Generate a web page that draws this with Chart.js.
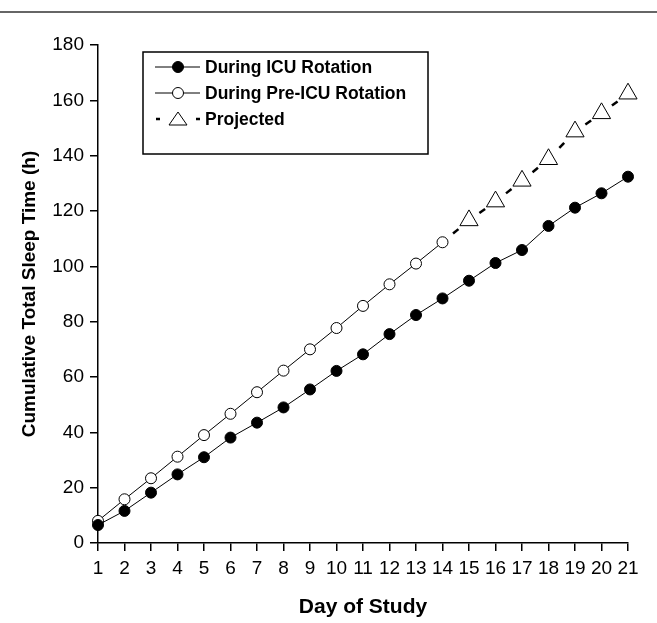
<!DOCTYPE html>
<html>
<head>
<meta charset="utf-8">
<script src="https://cdn.jsdelivr.net/npm/chart.js@4/dist/chart.umd.min.js"></script>
<style>
  html, body { margin: 0; padding: 0; background: #fff; }
  #wrap { position: relative; width: 657px; height: 623px; }
  #topline { position: absolute; left: 0; top: 11px; width: 657px; height: 2px; background: #666; }
  #chart { position: absolute; left: 0; top: 0; }
</style>
</head>
<body>
<div id="wrap">
  <canvas id="chart" width="657" height="623"></canvas>
  <div id="topline"></div>
</div>
<script>
const days = ['1','2','3','4','5','6','7','8','9','10','11','12','13','14','15','16','17','18','19','20','21'];

const icu = [6.5, 11.6, 18.2, 24.8, 31, 38.1, 43.5, 49, 55.5, 62.2, 68.2, 75.5, 82.4, 88.4, 94.8, 101.2, 105.9, 114.6, 121.2, 126.4, 132.4];
const preIcu = [8, 15.8, 23.4, 31.2, 39, 46.7, 54.5, 62.3, 70, 77.7, 85.7, 93.5, 101, 108.7];
const projected = [null, null, null, null, null, null, null, null, null, null, null, null, null, 108.7, 116.6, 123.4, 130.9, 138.7, 148.7, 155.3, 162.4];

const seriesNames = ['During ICU Rotation', 'During Pre-ICU Rotation', 'Projected'];

const yTicks = { min: 0, max: 180, step: 20 };

Chart.defaults.font.family = "'Liberation Sans', Arial, sans-serif";
Chart.defaults.color = '#000';

// one short dash centred between two markers
function midDash(ctx) {
  const L = Math.hypot(ctx.p1.x - ctx.p0.x, ctx.p1.y - ctx.p0.y);
  const gap = L / 2 - 3.5;
  return [0, gap, 7, gap];
}

const boxLegend = {
  id: 'boxLegend',
  afterDraw(chart) {
    const c = chart.ctx;
    const a = chart.chartArea;
    const x0 = a.left + 45, y0 = a.top + 7;
    c.save();
    c.strokeStyle = '#000';
    c.lineWidth = 1.5;
    c.strokeRect(x0, y0, 285, 102);

    const rows = [y0 + 15, y0 + 41, y0 + 67];
    const lx1 = x0 + 12, lx2 = x0 + 57, mx = x0 + 35;
    c.lineWidth = 1;
    // row 1 & 2: line with circle
    for (let i = 0; i < 2; i++) {
      c.beginPath();
      c.moveTo(lx1, rows[i]);
      c.lineTo(lx2, rows[i]);
      c.stroke();
      c.beginPath();
      c.arc(mx, rows[i], 5.5, 0, Math.PI * 2);
      c.fillStyle = i === 0 ? '#000' : '#fff';
      c.fill();
      c.stroke();
    }
    // row 3: dash, triangle, dash
    c.lineWidth = 2.5;
    c.beginPath();
    c.moveTo(x0 + 13, rows[2]); c.lineTo(x0 + 17, rows[2]);
    c.moveTo(x0 + 53, rows[2]); c.lineTo(x0 + 57, rows[2]);
    c.stroke();
    c.lineWidth = 1;
    c.beginPath();
    c.moveTo(mx, rows[2] - 7);
    c.lineTo(mx + 9, rows[2] + 6);
    c.lineTo(mx - 9, rows[2] + 6);
    c.closePath();
    c.fillStyle = '#fff';
    c.fill();
    c.stroke();

    c.fillStyle = '#000';
    c.font = "bold 17.5px 'Liberation Sans', Arial, sans-serif";
    c.textBaseline = 'middle';
    c.textAlign = 'left';
    for (let i = 0; i < 3; i++) c.fillText(seriesNames[i], x0 + 62, rows[i] + 1);
    c.restore();
  }
};

const tickFont = { family: "'Liberation Sans Narrow', 'Liberation Sans', Arial, sans-serif", size: 19 };

new Chart(document.getElementById('chart'), {
  type: 'line',
  data: {
    labels: days,
    datasets: [
      {
        label: seriesNames[0],
        data: icu,
        borderColor: '#000',
        borderWidth: 1,
        backgroundColor: '#000',
        pointBackgroundColor: '#000',
        pointBorderColor: '#000',
        pointBorderWidth: 1,
        pointRadius: 5.5,
        tension: 0
      },
      {
        label: seriesNames[1],
        data: preIcu,
        borderColor: '#000',
        borderWidth: 1,
        pointBackgroundColor: '#fff',
        pointBorderColor: '#000',
        pointBorderWidth: 1,
        pointRadius: 5.5,
        tension: 0
      },
      {
        label: seriesNames[2],
        data: projected,
        borderColor: '#000',
        borderWidth: 2.5,
        pointStyle: 'triangle',
        pointBackgroundColor: '#fff',
        pointBorderColor: '#000',
        pointBorderWidth: 1,
        pointRadius: ctx => ctx.dataIndex === 13 ? 0 : 10.5,
        segment: { borderDash: midDash },
        tension: 0
      }
    ]
  },
  options: {
    responsive: false,
    animation: false,
    events: [],
    layout: { padding: { top: 45, right: 29, left: 0, bottom: 0 } },
    plugins: {
      legend: { display: false },
      tooltip: { enabled: false }
    },
    scales: {
      x: {
        offset: false,
        afterFit: s => { s.height = 80; },
        grid: { drawOnChartArea: false, drawTicks: true, tickLength: 8, color: '#000', lineWidth: 1.5 },
        border: { color: '#000', width: 1.5 },
        ticks: { font: tickFont, color: '#000', padding: 6, maxRotation: 0, autoSkip: false },
        title: {
          display: true,
          text: 'Day of Study',
          font: { size: 21, weight: 'bold' },
          color: '#000',
          padding: { top: 6, bottom: 3 }
        }
      },
      y: {
        min: yTicks.min,
        max: yTicks.max,
        afterFit: s => { s.width = 98; },
        grid: { drawOnChartArea: false, drawTicks: true, tickLength: 8, color: '#000', lineWidth: 1.5 },
        border: { color: '#000', width: 1.5 },
        ticks: { stepSize: yTicks.step, font: tickFont, color: '#000', padding: 6 },
        title: {
          display: true,
          text: 'Cumulative Total Sleep Time (h)',
          font: { size: 19, weight: 'bold' },
          color: '#000',
          padding: { top: 18, bottom: 0 }
        }
      }
    }
  },
  plugins: [boxLegend]
});
</script>
</body>
</html>
